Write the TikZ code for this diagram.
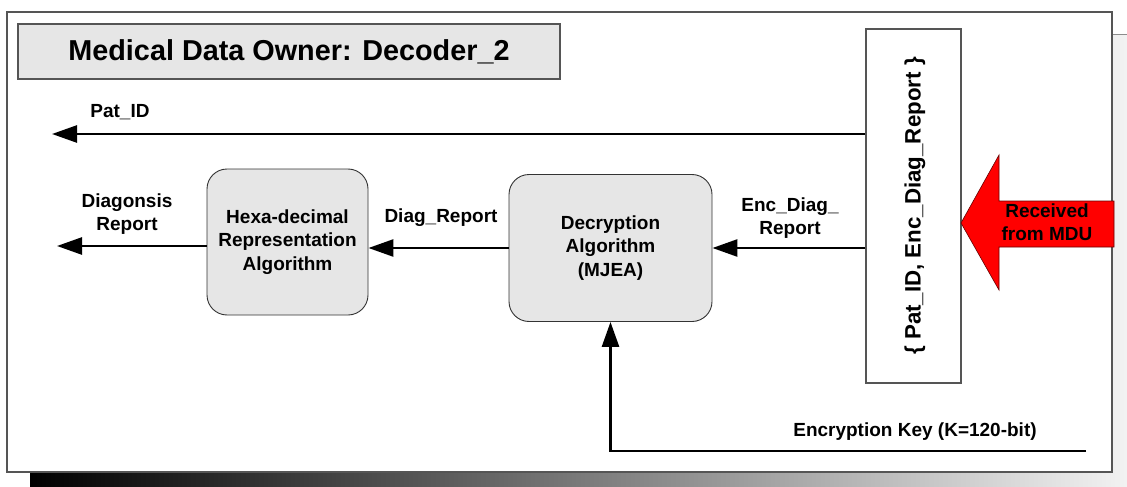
\documentclass[tikz,border=0pt]{standalone}
\usepackage{fontspec}
\setmainfont{Liberation Sans}
\usetikzlibrary{arrows.meta}
\definecolor{boxgray}{HTML}{E6E6E6}
\definecolor{framegray}{HTML}{555555}

\begin{document}
\begin{tikzpicture}[x=1pt,y=-1pt,
  lbl/.style={font=\fontsize{19}{23}\selectfont\bfseries, align=center, inner sep=0pt},
  algbox/.style={draw=black!80, line width=0.9pt, fill=boxgray, rounded corners=20pt,
                 inner sep=0pt, align=center, font=\fontsize{19}{23.5}\selectfont\bfseries},
  flow/.style={line width=2.6pt, -{Triangle[length=25pt,width=17pt]}},
]
\useasboundingbox (0,0) rectangle (1127,487);

% drop shadow behind the frame
\shade[left color=black, right color=black!5] (30,35) rectangle (1127,487);
\draw[black!45, line width=1pt] (1112,35) -- (1127,35);

% outer frame
\node[draw=framegray, fill=white, line width=1.2pt, minimum width=1105pt,
      minimum height=460pt, inner sep=0pt] (frame) at (559.5,242) {};

% title
\node[draw=framegray, line width=1.3pt, fill=boxgray, minimum width=542pt,
      minimum height=55pt, inner sep=0pt,
      font=\fontsize{28.8}{34}\selectfont\bfseries] (title) at (289,51.5)
      {Medical Data Owner: Decoder\_2};

% received bundle
\node[draw=framegray, line width=1.2pt, fill=white, minimum width=95pt,
      minimum height=354pt, inner sep=0pt] (bus) at (913.5,206) {};
\node[lbl, rotate=90, font=\fontsize{22.3}{26}\selectfont\bfseries] (bustxt) at (915,206)
      {\{ Pat\_ID, Enc\_Diag\_Report \}};

% incoming block arrow
\draw[fill=red, draw=black!60!red, line width=0.6pt]
  (961,223) -- (999,155) -- (999,201) -- (1114,201) -- (1114,247)
  -- (999,247) -- (999,290) -- cycle;
\node[lbl] (recv) at (1047,222) {Received\\from MDU};

% processing blocks
\node[algbox, minimum width=161pt, minimum height=146pt] (hexa) at (287.5,242)
      {Hexa-decimal\\Representation\\Algorithm};
\node[algbox, minimum width=203pt, minimum height=147pt] (dec) at (610.5,248)
      {Decryption\\Algorithm\\(MJEA)};

% free ends
\coordinate (pidtip) at (52,134);
\coordinate (reptip) at (57,246);
\coordinate (keyend) at (1086,451);

% data flow
\draw[flow] (bus.west |- pidtip) -- (pidtip);
\draw[flow] (bus.west |- dec.east) -- (dec.east);
\draw[flow] (dec.west) -- (dec.west -| hexa.east);
\draw[flow] (hexa.west |- reptip) -- (reptip);
\draw[flow] (keyend) -| (dec.south);

% labels
\node[lbl] (pidlbl) at (120,112) {Pat\_ID};
\node[lbl] (replbl) at (127,214) {Diagonsis\\Report};
\node[lbl] (diaglbl) at (441,218) {Diag\_Report};
\node[lbl] (enclbl) at (790,218) {Enc\_Diag\_\\Report};
\node[lbl] (keylbl) at (915,432) {Encryption Key (K=120-bit)};
\end{tikzpicture}
\end{document}
